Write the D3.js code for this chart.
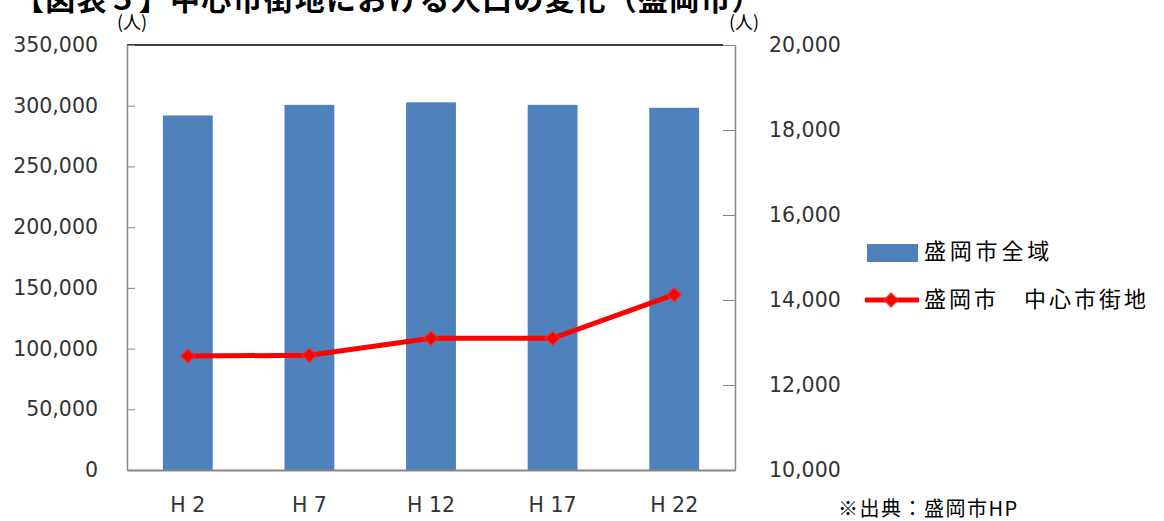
<!doctype html>
<html>
<head>
<meta charset="utf-8">
<title>盛岡市 人口の変化</title>
<script src="https://cdn.jsdelivr.net/npm/d3@7/dist/d3.min.js"></script>
<style>
  body { margin: 0; background: #fff; }
  svg { display: block; }
</style>
</head>
<body>
<svg width="1164" height="521"></svg>
<script>
var years = ["H 2", "H 7", "H 12", "H 17", "H 22"];
var totalPop = [292000, 300700, 302800, 300700, 298300];   // 盛岡市全域
var centralPop = [12680, 12700, 13100, 13100, 14125];     // 盛岡市 中心市街地
var leftTicks = [0, 50000, 100000, 150000, 200000, 250000, 300000, 350000];
var rightTicks = [10000, 12000, 14000, 16000, 18000, 20000];

(function() {
var svg = d3.select("svg");
var pLeft = 127, pRight = 735, pTop = 45, pBottom = 470;
var numFont = "'DejaVu Sans', sans-serif";
var jpFont = "'Noto Sans CJK JP', sans-serif";

var x = d3.scaleBand().domain(years).range([pLeft, pRight]).paddingInner(0.59).paddingOuter(0.295);
var xc = d3.scalePoint().domain(years).range([pLeft, pRight]).padding(0.5);
var yL = d3.scaleLinear().domain([0, 350000]).range([pBottom, pTop]);
var yR = d3.scaleLinear().domain([10000, 20000]).range([pBottom, pTop]);
var fmt = d3.format(",");

// title (cut off at the top)
svg.append("text")
    .attr("x", 14).attr("y", 10)
    .attr("font-family", jpFont).attr("font-weight", "bold")
    .attr("font-size", 30).attr("letter-spacing", 1.2).attr("fill", "#000")
    .text("【図表５】中心市街地における人口の変化（盛岡市）");

// bars
svg.append("g").selectAll("rect")
    .data(totalPop)
    .enter().append("rect")
    .attr("x", function(d, i) { return x(years[i]); })
    .attr("y", function(d) { return yL(d); })
    .attr("width", x.bandwidth())
    .attr("height", function(d) { return yL(0) - yL(d); })
    .attr("fill", "#4F81BD");

// top border
svg.append("line")
    .attr("x1", pLeft).attr("x2", pRight - 12)
    .attr("y1", pTop).attr("y2", pTop)
    .attr("stroke", "#000").attr("stroke-width", 1.5);

// left axis
var gl = svg.append("g").attr("transform", "translate(" + pLeft + ",0)")
    .call(d3.axisLeft(yL).tickValues(leftTicks).tickFormat(fmt).tickSizeInner(-8).tickSizeOuter(0).tickPadding(29));
gl.select(".domain").attr("stroke", "#868686").attr("stroke-width", 1.5);
gl.selectAll(".tick line").attr("stroke", "#868686");
gl.selectAll(".tick text").attr("font-family", numFont).attr("font-size", 20.5).attr("fill", "#333");

// right axis
var gr = svg.append("g").attr("transform", "translate(" + pRight + ",0)")
    .call(d3.axisRight(yR).tickValues(rightTicks).tickFormat(fmt).tickSizeInner(-12).tickSizeOuter(0).tickPadding(34));
gr.select(".domain").attr("stroke", "#868686").attr("stroke-width", 1.5);
gr.selectAll(".tick line").attr("stroke", "#868686");
gr.selectAll(".tick text").attr("font-family", numFont).attr("font-size", 20.5).attr("fill", "#333");

// bottom axis
var gb = svg.append("g").attr("transform", "translate(0," + pBottom + ")")
    .call(d3.axisBottom(x).tickSize(0).tickPadding(27));
gb.select(".domain").attr("stroke", "#868686").attr("stroke-width", 2);
gb.selectAll(".tick text").attr("font-family", numFont).attr("font-size", 20.5).attr("fill", "#333")
    .attr("dy", "0.71em");

// unit labels
svg.append("text").attr("x", 117).attr("y", 29)
    .attr("font-family", jpFont).attr("font-size", 18).text("(人)");
svg.append("text").attr("x", 729).attr("y", 29)
    .attr("font-family", jpFont).attr("font-size", 18).text("(人)");

// line
var line = d3.line()
    .x(function(d, i) { return xc(years[i]); })
    .y(function(d) { return yR(d); });
svg.append("path")
    .datum(centralPop)
    .attr("d", line)
    .attr("fill", "none").attr("stroke", "#FF0000").attr("stroke-width", 5);

var diamond = d3.symbol().type(d3.symbolDiamond2).size(130);
svg.append("g").selectAll("path")
    .data(centralPop)
    .enter().append("path")
    .attr("d", diamond)
    .attr("transform", function(d, i) { return "translate(" + xc(years[i]) + "," + yR(d) + ")"; })
    .attr("fill", "#FF0000").attr("stroke", "#E04040").attr("stroke-width", 2).attr("stroke-opacity", 0.5);

// legend
var lg = svg.append("g");
lg.append("rect").attr("x", 867).attr("y", 244).attr("width", 51).attr("height", 18).attr("fill", "#4F81BD");
lg.append("text").attr("x", 924).attr("y", 259)
    .attr("font-family", jpFont).attr("font-size", 22).attr("letter-spacing", 3.8).text("盛岡市全域");
lg.append("line").attr("x1", 865).attr("x2", 919).attr("y1", 300).attr("y2", 300)
    .attr("stroke", "#FF0000").attr("stroke-width", 5);
lg.append("path").attr("d", diamond).attr("transform", "translate(891,300)")
    .attr("fill", "#FF0000").attr("stroke", "#E04040").attr("stroke-width", 2).attr("stroke-opacity", 0.5);
lg.append("text").attr("x", 924).attr("y", 307)
    .attr("font-family", jpFont).attr("font-size", 22).attr("letter-spacing", 3).text("盛岡市　中心市街地");

// source
svg.append("text").attr("x", 838).attr("y", 516)
    .attr("font-family", jpFont).attr("font-size", 20).attr("letter-spacing", 1.5).text("※出典：盛岡市HP");
})();
</script>
</body>
</html>
